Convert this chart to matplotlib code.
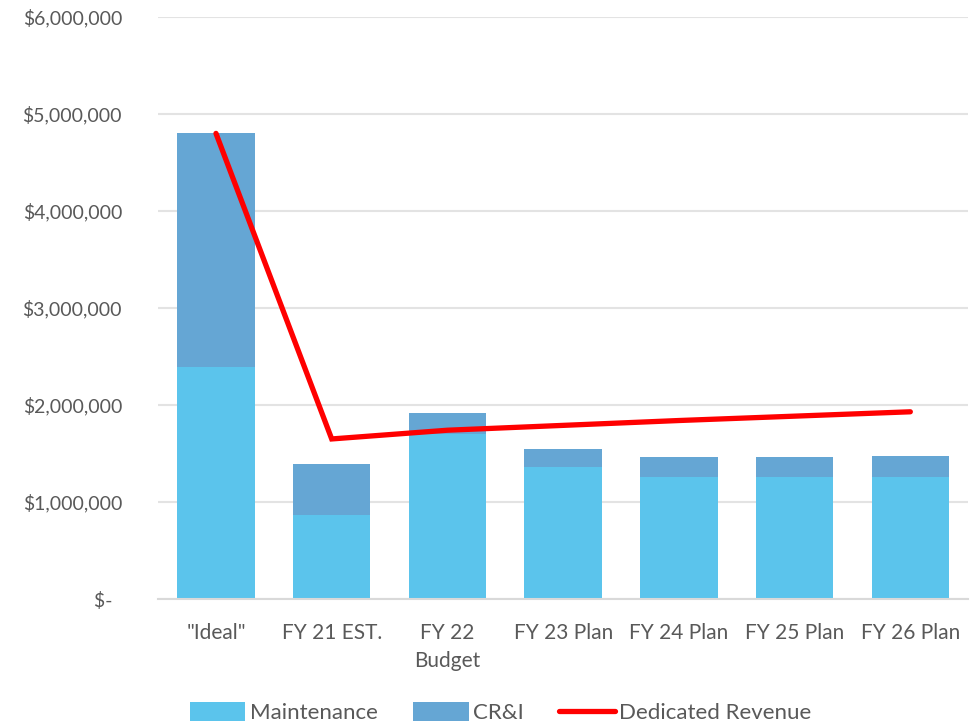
import matplotlib.pyplot as plt
import numpy as np

plt.rcParams['font.family'] = ['Lato', 'DejaVu Sans']

categories = ['"Ideal"', 'FY 21 EST.', 'FY 22\nBudget', 'FY 23 Plan', 'FY 24 Plan', 'FY 25 Plan', 'FY 26 Plan']
maintenance = [2390000, 870000, 1700000, 1360000, 1260000, 1260000, 1260000]
cri = [2410000, 520000, 220000, 190000, 200000, 200000, 210000]
dedicated_revenue = [4800000, 1650000, 1740000, 1790000, 1840000, 1885000, 1930000]

grey = '#595959'
x = np.arange(len(categories))

fig = plt.figure(figsize=(9.76, 7.23), dpi=100)
ax = fig.add_axes([0.162, 0.1715, 0.830, 0.805])

b1 = ax.bar(x, maintenance, width=0.67, color='#5BC4EC', label='Maintenance', zorder=2)
b2 = ax.bar(x, cri, width=0.67, bottom=maintenance, color='#65A6D4', label='CR&I', zorder=2)
ln, = ax.plot(x, dedicated_revenue, color='#FF0000', lw=3.8, label='Dedicated Revenue', zorder=3,
              solid_capstyle='round', solid_joinstyle='miter')

ax.set_xlim(-0.5, len(categories) - 0.5)
ax.set_ylim(0, 6000000)
ax.set_yticks(np.arange(0, 6000001, 1000000))
ax.set_yticklabels(['$-  '] + ['${:,.0f}'.format(v) for v in range(1000000, 6000001, 1000000)])
ax.set_xticks(x)
ax.set_xticklabels(categories)
ax.tick_params(axis='both', length=0, colors=grey)
ax.tick_params(axis='y', pad=26, labelsize=14)
ax.tick_params(axis='x', pad=17, labelsize=15)
for lab in ax.get_xticklabels():
    lab.set_linespacing(1.5)

ax.grid(axis='y', color='#E3E3E3', lw=1.5, zorder=0)
for s in ['top', 'right', 'left']:
    ax.spines[s].set_visible(False)
ax.spines['bottom'].set_color('#D9D9D9')
ax.spines['bottom'].set_linewidth(1.5)

fig.legend([b1, b2, ln], ['Maintenance', 'CR&I', 'Dedicated Revenue'],
           loc='lower center', bbox_to_anchor=(0.513, -0.028), ncol=3, frameon=False,
           fontsize=16, labelcolor=grey, handlelength=2.5, handleheight=0.9,
           handletextpad=0.2, columnspacing=1.6)

fig.savefig('out.png', dpi=100)
